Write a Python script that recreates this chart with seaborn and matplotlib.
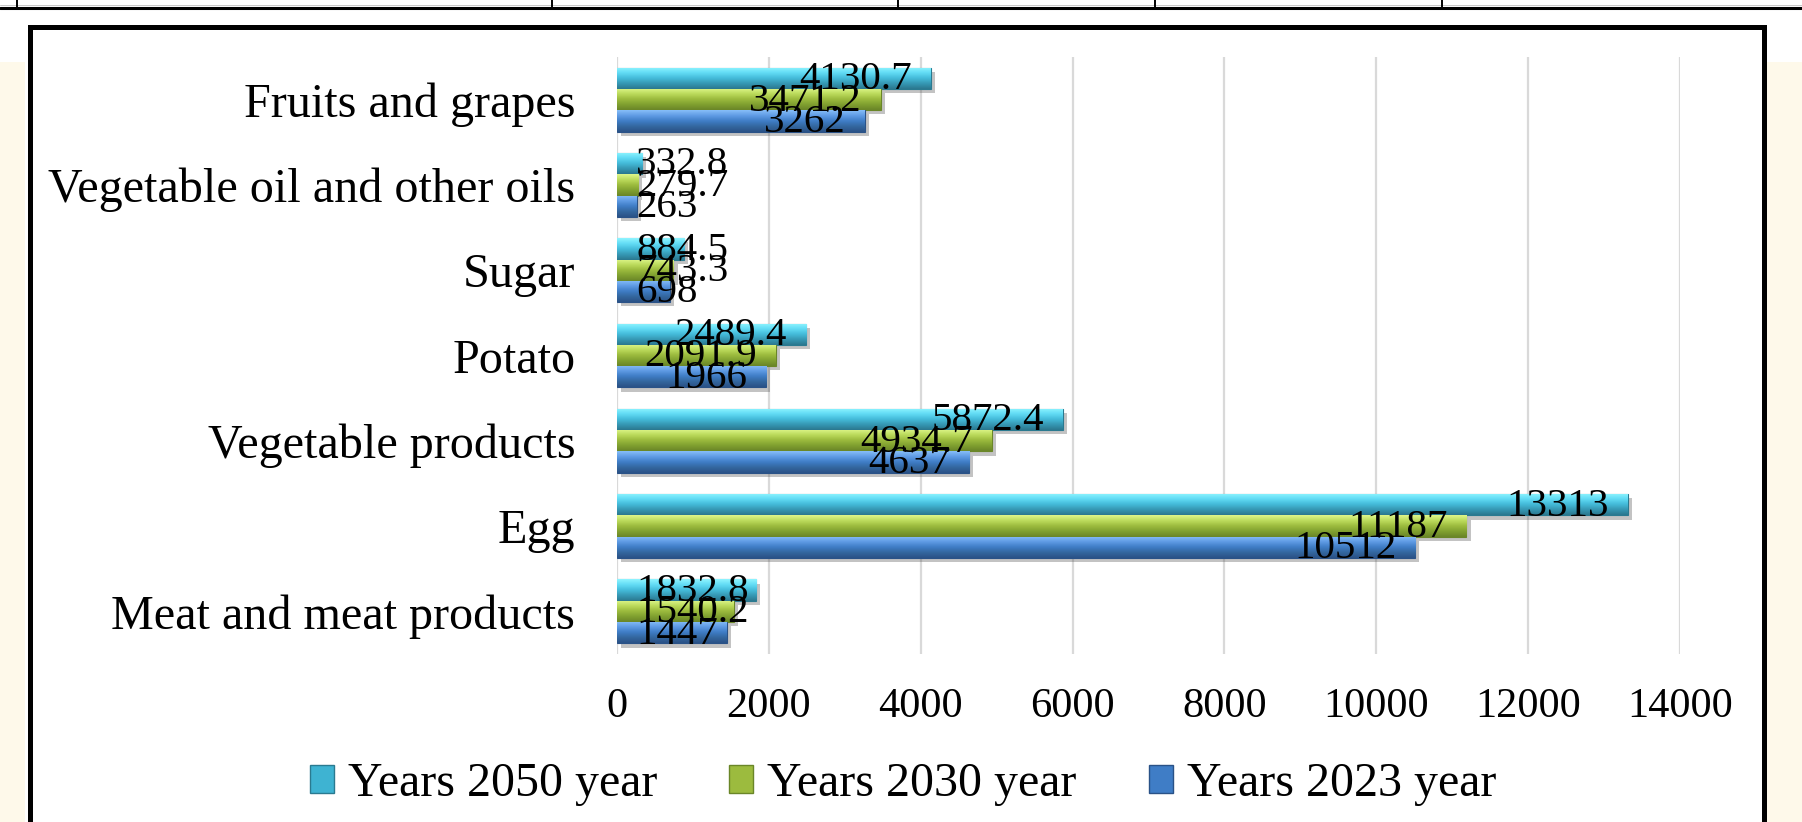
import numpy as np
import pandas as pd
import matplotlib
matplotlib.use("Agg")
import matplotlib.pyplot as plt
import matplotlib.patches as mpatches
import matplotlib.lines as mlines
import matplotlib.patheffects as pe
from matplotlib.colors import to_rgb
import seaborn as sns

# ---------------- data ----------------
categories = ["Fruits and grapes", "Vegetable oil and other oils", "Sugar",
              "Potato", "Vegetable products", "Egg", "Meat and meat products"]
series_names = ["Years 2050 year", "Years 2030 year", "Years 2023 year"]
values_2050 = [4130.7, 332.8, 884.5, 2489.4, 5872.4, 13313, 1832.8]
values_2030 = [3471.2, 279.7, 743.3, 2091.9, 4934.7, 11187, 1540.2]
values_2023 = [3262, 263, 698, 1966, 4637, 10512, 1447]
x_ticks = [0, 2000, 4000, 6000, 8000, 10000, 12000, 14000]

df = pd.DataFrame({
    "category": categories * 3,
    "series": [series_names[0]] * 7 + [series_names[1]] * 7 + [series_names[2]] * 7,
    "value": values_2050 + values_2030 + values_2023,
})

# ---------------- style ----------------
sns.set_style("white")
plt.rcParams["font.family"] = ["Liberation Serif", "DejaVu Serif"]
plt.rcParams["text.color"] = "black"
plt.rcParams["xtick.labelcolor"] = "black"
plt.rcParams["ytick.labelcolor"] = "black"

base_colors = ["#3EB3D2", "#9CBB3E", "#3F7DC6"]
grad_stops = [
    ["#8FF4FF", "#62DCF5", "#45BCDA", "#3698B4", "#2B7890"],
    ["#DDF58A", "#BCDB5C", "#9CBB3E", "#80A030", "#6A8628"],
    ["#86BDF8", "#5F9BE4", "#3F7DC6", "#34679F", "#2A5287"],
]
edge_colors = ["#2A7A90", "#6A8628", "#2A5287"]

W, H, DPI = 1802, 822, 100
fig = plt.figure(figsize=(W / DPI, H / DPI), dpi=DPI, facecolor="white")

# page decorations (cream page, table rule, chart frame) - drawn beneath the axes
cream = "#FEF9EA"
fig.patches.append(mpatches.Rectangle((0, 0), 25 / W, 1 - 62 / H, transform=fig.transFigure,
                                      facecolor=cream, edgecolor="none", zorder=-3))
fig.patches.append(mpatches.Rectangle((1766 / W, 0), 1 - 1766 / W, 1 - 62 / H, transform=fig.transFigure,
                                      facecolor=cream, edgecolor="none", zorder=-3))
fig.lines.append(mlines.Line2D([0, 1], [1 - 8 / H, 1 - 8 / H], transform=fig.transFigure,
                               color="black", linewidth=2.2, zorder=-1))
fig.lines.append(mlines.Line2D([0, 1], [1 - 5.5 / H, 1 - 5.5 / H], transform=fig.transFigure,
                               color="#C8C8C8", linewidth=0.7, zorder=-1))
for xv in [17, 552, 898, 1155, 1442]:
    fig.lines.append(mlines.Line2D([xv / W, xv / W], [1 - 8 / H, 1], transform=fig.transFigure,
                                   color="black", linewidth=1.4, zorder=-1))
fig.patches.append(mpatches.Rectangle((29.5 / W, -0.05), (1764 - 29.5) / W, 1.05 - 27.5 / H,
                                      transform=fig.transFigure, facecolor="white",
                                      edgecolor="black", linewidth=3.6, zorder=-2))

# ---------------- axes ----------------
ax = fig.add_axes([617 / W, 1 - 654 / H, (1680 - 617) / W, (654 - 57) / H])
ax.set_facecolor("none")
ax.set_zorder(1)

sns.barplot(data=df, x="value", y="category", hue="series", hue_order=series_names,
            order=categories, palette=base_colors, orient="h", width=0.75, gap=0,
            ax=ax, legend=True, saturation=1)

ax.set_xlim(0, 14000)
ax.set_ylim(6.5, -0.5)
ax.set_xticks(x_ticks)
ax.set_xticklabels([str(t) for t in x_ticks])
ax.set_xlabel("")
ax.set_ylabel("")
ax.grid(axis="x", color="#D9D9D9", linewidth=1.6)
ax.set_axisbelow(True)
for s in ax.spines.values():
    s.set_visible(False)
ax.tick_params(axis="x", length=0, labelsize=30.5, pad=24, labelcolor="black")
ax.tick_params(axis="y", length=0, labelsize=34.7, pad=30, labelcolor="black")

# gradient fill + shadow for each bar
for ci, cont in enumerate(ax.containers):
    cols = np.array([to_rgb(c) for c in grad_stops[ci]])
    pos = np.linspace(0, 1, len(cols))
    t = np.linspace(0, 1, 40)
    grad = np.stack([np.interp(t, pos, cols[:, k]) for k in range(3)], axis=-1)[:, None, :]
    for bar in cont.patches:
        bar.set_edgecolor(edge_colors[ci])
        bar.set_linewidth(0.8)
        bar.set_path_effects([pe.SimplePatchShadow(offset=(3, -3), alpha=0.35, shadow_rgbFace="#555555"),
                              pe.Normal()])
        x0, y0, w, h = bar.get_x(), bar.get_y(), bar.get_width(), bar.get_height()
        im = ax.imshow(grad, extent=(x0, x0 + w, y0 + h, y0), aspect="auto",
                       interpolation="bilinear", zorder=bar.get_zorder() + 0.1)
        im.set_clip_path(bar)

ax.set_xlim(0, 14000)
ax.set_ylim(6.5, -0.5)

# legend at the bottom of the frame
ax.get_legend().remove()
leg_handles = [mpatches.Patch(facecolor=base_colors[i], edgecolor=edge_colors[i], linewidth=1.0)
               for i in range(3)]
leg = fig.legend(leg_handles, series_names, loc="center", bbox_to_anchor=(903 / W, 1 - 784 / H),
                 ncol=3, frameon=False, fontsize=34.5, handlelength=0.5, handleheight=0.5,
                 handletextpad=0.3, columnspacing=1.5, borderaxespad=0, labelcolor="black")
leg.set_zorder(2)

# value labels (inside end, kept inside the plot when the bar is short)
fig.canvas.draw()
renderer = fig.canvas.get_renderer()
pad_px = 19
for ci, cont in enumerate(ax.containers):
    for bar, v in zip(cont.patches, cont.datavalues):
        yc = bar.get_y() + bar.get_height() / 2
        txt = ax.annotate(f"{v:g}", xy=(v, yc), xytext=(-pad_px * 0.72, -1), textcoords="offset points",
                          ha="right", va="center", fontsize=29.5, color="black", zorder=10,
                          annotation_clip=False)
        bb = txt.get_window_extent(renderer)
        x_start_px = ax.transData.transform((0, yc))[0]
        if bb.x0 < x_start_px + pad_px:
            txt.remove()
            ax.annotate(f"{v:g}", xy=(0, yc), xytext=(pad_px * 0.72, -1), textcoords="offset points",
                        ha="left", va="center", fontsize=29.5, color="black", zorder=10,
                        annotation_clip=False)

fig.savefig("out.png", dpi=DPI, facecolor="white")
